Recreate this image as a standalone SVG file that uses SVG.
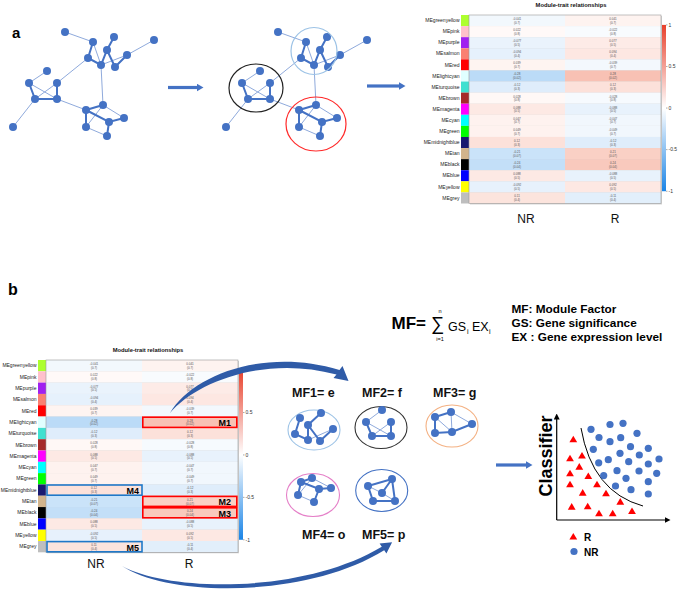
<svg xmlns="http://www.w3.org/2000/svg" width="678" height="589" viewBox="0 0 678 589">
<style>
text{font-family:'Liberation Sans',Arial,sans-serif}
.b{font-weight:bold}
.lt{stroke:#8FAADC;stroke-width:1;fill:none}
.tk{stroke:#4472C4;stroke-width:2;fill:none}
.nd{fill:#4472C4}
.lab{font-size:5px;fill:#222;text-anchor:end}
.cv{font-size:3px;fill:#555;text-anchor:middle}
.tt{font-size:5.8px;font-weight:bold;text-anchor:middle;fill:#111}
.cb{font-size:5px;fill:#333}
.mf{font-size:12.5px;font-weight:bold;fill:#111}
.dot{fill:#4472C4}
.tri{fill:#FF0000}
.arr{stroke:#4472C4;stroke-width:3.2;fill:none}
.big{fill:#2F5BA7}
.ax{stroke:#000;stroke-width:1.2;fill:none}
.mk{font-size:9px;font-weight:bold;fill:#000;text-anchor:end}
.rb{fill:none;stroke:#FF0000;stroke-width:1.6}
.bb{fill:none;stroke:#1F78C8;stroke-width:1.6}
.ax2{font-size:12px;fill:#111;text-anchor:middle}
</style>
<defs>
<marker id="ah" viewBox="0 0 7 8" refX="0.5" refY="4" markerWidth="7" markerHeight="8" markerUnits="userSpaceOnUse" orient="auto"><path d="M0,0 L7,4 L0,8 Z" fill="#4472C4"/></marker>
<marker id="ahk" viewBox="0 0 6 6" refX="0.5" refY="3" markerWidth="6" markerHeight="6" markerUnits="userSpaceOnUse" orient="auto"><path d="M0,0 L6,3 L0,6 Z" fill="#000"/></marker>
<linearGradient id="cbg" x1="0" y1="0" x2="0" y2="1">
<stop offset="0" stop-color="#E8412C"/><stop offset="0.5" stop-color="#FFFFFF"/><stop offset="1" stop-color="#1A84E6"/>
</linearGradient>
<path id="tr" d="M0,-3.6 L3.9,3 L-3.9,3 Z"/>
<g id="net">
<path class="lt" d="M65,32 L93,42 M93,42 L101,65 M154,40 L127,55 M101,65 L127,55 M88,58 L57,83 M29,83 L57,99 M57,83 L35,99 M29,83 L47,71 M35,99 L13,127 M57,99 L86,110 M101,65 L103,105 M103,105 L124,118 M86,127 L107,136 M86,127 L103,105"/>
<path class="tk" d="M93,42 L88,58 L101,65 L107,50 L114,37 M107,50 L115,67 L127,55 M29,83 L35,99 L57,99 L57,83 M86,110 L103,105 M86,110 L109,122 L124,118 M86,110 L86,127 M109,122 L107,136"/>
<g class="nd">
<circle cx="65" cy="32" r="4"/><circle cx="93" cy="42" r="4"/><circle cx="114" cy="37" r="4"/><circle cx="154" cy="40" r="4"/><circle cx="107" cy="50" r="4"/><circle cx="127" cy="55" r="4"/><circle cx="88" cy="58" r="4"/><circle cx="101" cy="65" r="4"/><circle cx="115" cy="67" r="4"/><circle cx="47" cy="71" r="4"/><circle cx="29" cy="83" r="4"/><circle cx="57" cy="83" r="4"/><circle cx="35" cy="99" r="4"/><circle cx="57" cy="99" r="4"/><circle cx="103" cy="105" r="4"/><circle cx="86" cy="110" r="4"/><circle cx="124" cy="118" r="4"/><circle cx="109" cy="122" r="4"/><circle cx="86" cy="127" r="4"/><circle cx="107" cy="136" r="4"/><circle cx="13" cy="127" r="4"/>
</g>
</g>
<g id="hm">
<text class="tt" x="110" y="-8">Module-trait relationships</text>
<rect x="9" y="1" width="192" height="190.4" fill="#d4d4d4"/>
<rect x="0" y="0" width="8" height="11.2" fill="#ADFF2F"/><rect x="8" y="0" width="96" height="11.2" fill="#F2F8FD"/><rect x="104" y="0" width="96" height="11.2" fill="#FEF3F0"/>
<rect x="0" y="11.2" width="8" height="11.2" fill="#FFC0CB"/><rect x="8" y="11.2" width="96" height="11.2" fill="#FFF9F8"/><rect x="104" y="11.2" width="96" height="11.2" fill="#F8FBFE"/>
<rect x="0" y="22.4" width="8" height="11.2" fill="#A020F0"/><rect x="8" y="22.4" width="96" height="11.2" fill="#EAF3FC"/><rect x="104" y="22.4" width="96" height="11.2" fill="#FDEBE7"/>
<rect x="0" y="33.6" width="8" height="11.2" fill="#FA8072"/><rect x="8" y="33.6" width="96" height="11.2" fill="#E6F1FC"/><rect x="104" y="33.6" width="96" height="11.2" fill="#FDE7E2"/>
<rect x="0" y="44.8" width="8" height="11.2" fill="#FF0000"/><rect x="8" y="44.8" width="96" height="11.2" fill="#FEF4F1"/><rect x="104" y="44.8" width="96" height="11.2" fill="#F3F8FD"/>
<rect x="0" y="56" width="8" height="11.2" fill="#E0FFFF"/><rect x="8" y="56" width="96" height="11.2" fill="#BBDBF7"/><rect x="104" y="56" width="96" height="11.2" fill="#F8C1B4"/>
<rect x="0" y="67.2" width="8" height="11.2" fill="#40E0D0"/><rect x="8" y="67.2" width="96" height="11.2" fill="#DFEDFB"/><rect x="104" y="67.2" width="96" height="11.2" fill="#FCE1DA"/>
<rect x="0" y="78.4" width="8" height="11.2" fill="#A52A2A"/><rect x="8" y="78.4" width="96" height="11.2" fill="#FFF8F6"/><rect x="104" y="78.4" width="96" height="11.2" fill="#F6FAFE"/>
<rect x="0" y="89.6" width="8" height="11.2" fill="#FF00FF"/><rect x="8" y="89.6" width="96" height="11.2" fill="#FDE9E4"/><rect x="104" y="89.6" width="96" height="11.2" fill="#E8F2FC"/>
<rect x="0" y="100.8" width="8" height="11.2" fill="#00FFFF"/><rect x="8" y="100.8" width="96" height="11.2" fill="#FEF2EF"/><rect x="104" y="100.8" width="96" height="11.2" fill="#F1F7FD"/>
<rect x="0" y="112" width="8" height="11.2" fill="#00FF00"/><rect x="8" y="112" width="96" height="11.2" fill="#FEF2EF"/><rect x="104" y="112" width="96" height="11.2" fill="#F1F7FD"/>
<rect x="0" y="123.2" width="8" height="11.2" fill="#191970"/><rect x="8" y="123.2" width="96" height="11.2" fill="#FCE1DA"/><rect x="104" y="123.2" width="96" height="11.2" fill="#DFEDFB"/>
<rect x="0" y="134.4" width="8" height="11.2" fill="#D2B48C"/><rect x="8" y="134.4" width="96" height="11.2" fill="#CAE3F9"/><rect x="104" y="134.4" width="96" height="11.2" fill="#FAD0C5"/>
<rect x="0" y="145.6" width="8" height="11.2" fill="#000000"/><rect x="8" y="145.6" width="96" height="11.2" fill="#C3DFF8"/><rect x="104" y="145.6" width="96" height="11.2" fill="#F9C9BD"/>
<rect x="0" y="156.8" width="8" height="11.2" fill="#0000FF"/><rect x="8" y="156.8" width="96" height="11.2" fill="#FDE9E4"/><rect x="104" y="156.8" width="96" height="11.2" fill="#E8F2FC"/>
<rect x="0" y="168" width="8" height="11.2" fill="#FFFF00"/><rect x="8" y="168" width="96" height="11.2" fill="#E7F1FC"/><rect x="104" y="168" width="96" height="11.2" fill="#FDE8E3"/>
<rect x="0" y="179.2" width="8" height="11.2" fill="#BEBEBE"/><rect x="8" y="179.2" width="96" height="11.2" fill="#FCE4DD"/><rect x="104" y="179.2" width="96" height="11.2" fill="#E2EFFB"/>
<rect x="8" y="0" width="192" height="190.4" fill="none" stroke="#9a9a9a" stroke-width="0.6"/>
<text class="lab" x="-1.5" y="7.3">MEgreenyellow</text>
<text class="lab" x="-1.5" y="18.5">MEpink</text>
<text class="lab" x="-1.5" y="29.7">MEpurple</text>
<text class="lab" x="-1.5" y="40.9">MEsalmon</text>
<text class="lab" x="-1.5" y="52.1">MEred</text>
<text class="lab" x="-1.5" y="63.3">MElightcyan</text>
<text class="lab" x="-1.5" y="74.5">MEturquoise</text>
<text class="lab" x="-1.5" y="85.7">MEbrown</text>
<text class="lab" x="-1.5" y="96.9">MEmagenta</text>
<text class="lab" x="-1.5" y="108.1">MEcyan</text>
<text class="lab" x="-1.5" y="119.3">MEgreen</text>
<text class="lab" x="-1.5" y="130.5">MEmidnightblue</text>
<text class="lab" x="-1.5" y="141.7">MEtan</text>
<text class="lab" x="-1.5" y="152.9">MEblack</text>
<text class="lab" x="-1.5" y="164.1">MEblue</text>
<text class="lab" x="-1.5" y="175.3">MEyellow</text>
<text class="lab" x="-1.5" y="186.5">MEgrey</text>
<text class="cv" x="56" y="5">-0.041<tspan x="56" dy="3.8">(0.7)</tspan></text><text class="cv" x="152" y="5">0.041<tspan x="152" dy="3.8">(0.7)</tspan></text>
<text class="cv" x="56" y="16.2">0.022<tspan x="56" dy="3.8">(0.8)</tspan></text><text class="cv" x="152" y="16.2">-0.022<tspan x="152" dy="3.8">(0.8)</tspan></text>
<text class="cv" x="56" y="27.4">-0.077<tspan x="56" dy="3.8">(0.5)</tspan></text><text class="cv" x="152" y="27.4">0.077<tspan x="152" dy="3.8">(0.5)</tspan></text>
<text class="cv" x="56" y="38.6">-0.094<tspan x="56" dy="3.8">(0.4)</tspan></text><text class="cv" x="152" y="38.6">0.094<tspan x="152" dy="3.8">(0.4)</tspan></text>
<text class="cv" x="56" y="49.8">0.039<tspan x="56" dy="3.8">(0.7)</tspan></text><text class="cv" x="152" y="49.8">-0.039<tspan x="152" dy="3.8">(0.7)</tspan></text>
<text class="cv" x="56" y="61">-0.28<tspan x="56" dy="3.8">(0.02)</tspan></text><text class="cv" x="152" y="61">0.28<tspan x="152" dy="3.8">(0.02)</tspan></text>
<text class="cv" x="56" y="72.2">-0.12<tspan x="56" dy="3.8">(0.3)</tspan></text><text class="cv" x="152" y="72.2">0.12<tspan x="152" dy="3.8">(0.3)</tspan></text>
<text class="cv" x="56" y="83.4">0.028<tspan x="56" dy="3.8">(0.8)</tspan></text><text class="cv" x="152" y="83.4">-0.028<tspan x="152" dy="3.8">(0.8)</tspan></text>
<text class="cv" x="56" y="94.6">0.088<tspan x="56" dy="3.8">(0.5)</tspan></text><text class="cv" x="152" y="94.6">-0.088<tspan x="152" dy="3.8">(0.5)</tspan></text>
<text class="cv" x="56" y="105.8">0.047<tspan x="56" dy="3.8">(0.7)</tspan></text><text class="cv" x="152" y="105.8">-0.047<tspan x="152" dy="3.8">(0.7)</tspan></text>
<text class="cv" x="56" y="117">0.049<tspan x="56" dy="3.8">(0.7)</tspan></text><text class="cv" x="152" y="117">-0.049<tspan x="152" dy="3.8">(0.7)</tspan></text>
<text class="cv" x="56" y="128.2">0.12<tspan x="56" dy="3.8">(0.3)</tspan></text><text class="cv" x="152" y="128.2">-0.12<tspan x="152" dy="3.8">(0.3)</tspan></text>
<text class="cv" x="56" y="139.4">-0.21<tspan x="56" dy="3.8">(0.07)</tspan></text><text class="cv" x="152" y="139.4">0.21<tspan x="152" dy="3.8">(0.07)</tspan></text>
<text class="cv" x="56" y="150.6">-0.24<tspan x="56" dy="3.8">(0.04)</tspan></text><text class="cv" x="152" y="150.6">0.24<tspan x="152" dy="3.8">(0.04)</tspan></text>
<text class="cv" x="56" y="161.8">0.088<tspan x="56" dy="3.8">(0.5)</tspan></text><text class="cv" x="152" y="161.8">-0.088<tspan x="152" dy="3.8">(0.5)</tspan></text>
<text class="cv" x="56" y="173">-0.092<tspan x="56" dy="3.8">(0.5)</tspan></text><text class="cv" x="152" y="173">0.092<tspan x="152" dy="3.8">(0.5)</tspan></text>
<text class="cv" x="56" y="184.2">0.11<tspan x="56" dy="3.8">(0.4)</tspan></text><text class="cv" x="152" y="184.2">-0.11<tspan x="152" dy="3.8">(0.4)</tspan></text>
<rect x="201" y="10" width="4" height="168" fill="url(#cbg)"/>
<path d="M205,10 h1.5 M205,52 h1.5 M205,94 h1.5 M205,136 h1.5 M205,178 h1.5" stroke="#555" stroke-width="0.5"/>
<text class="cb" x="207.5" y="11.8">1</text>
<text class="cb" x="207.5" y="53.8">0.5</text>
<text class="cb" x="207.5" y="95.8">0</text>
<text class="cb" x="207.5" y="137.8">-0.5</text>
<text class="cb" x="207.5" y="179.8">-1</text>
</g>
</defs>
<rect width="678" height="589" fill="#FFFFFF"/>

<text class="b" x="12" y="38" font-size="15">a</text>
<text class="b" x="8" y="295" font-size="16">b</text>

<g id="network-raw"><use href="#net"/></g>
<g id="network-modules">
<use href="#net" transform="translate(213,0)"/>
<ellipse cx="314" cy="51" rx="23" ry="23.5" fill="none" stroke="#9DC3E6" stroke-width="1.2"/>
<ellipse cx="256" cy="88" rx="27" ry="24" fill="none" stroke="#222" stroke-width="1.2"/>
<ellipse cx="316" cy="124" rx="30" ry="27" fill="none" stroke="#FF2A2A" stroke-width="1.2"/>
</g>

<g id="heatmap-top">
<use href="#hm" transform="translate(461,15) scale(1,0.99)"/>
<text class="ax2" x="526" y="223">NR</text>
<text class="ax2" x="615" y="223">R</text>
</g>

<g id="heatmap-bottom">
<use href="#hm" transform="translate(38,360) scale(1,1.01)"/>
<text class="ax2" x="96" y="568">NR</text>
<text class="ax2" x="189" y="568">R</text>
<rect class="rb" x="142.8" y="417.2" width="94" height="10.2"/>
<rect class="rb" x="142.8" y="496.4" width="94" height="10"/>
<rect class="rb" x="142.8" y="507.8" width="94" height="10"/>
<rect class="bb" x="47" y="485" width="95" height="10.2"/>
<rect class="bb" x="47" y="541.6" width="95" height="10.2"/>
<text class="mk" x="231" y="426">M1</text>
<text class="mk" x="231" y="505">M2</text>
<text class="mk" x="231" y="516.5">M3</text>
<text class="mk" x="139" y="494">M4</text>
<text class="mk" x="139" y="550.8">M5</text>
</g>

<g id="formula">
<text class="b" x="391.5" y="329" font-size="17">MF=</text>
<text x="431" y="330" font-size="18.5">∑</text>
<text x="440" y="313" font-size="5.5" text-anchor="middle">n</text>
<text x="440" y="340.5" font-size="5.5" text-anchor="middle">i=1</text>
<text x="448" y="331" font-size="12.5">GS</text>
<text x="467" y="334" font-size="7">i</text>
<text x="472" y="331" font-size="12.5">EX</text>
<text x="489" y="334" font-size="7">i</text>
<text class="b" x="511.5" y="312.5" font-size="11.8">MF: Module Factor</text>
<text class="b" x="511.5" y="326.5" font-size="11.8">GS: Gene significance</text>
<text class="b" x="511.5" y="340.5" font-size="11.8">EX : Gene expression level</text>
</g>

<g id="mf1">
<text class="mf" x="292" y="397">MF1= e</text>
<ellipse cx="314" cy="430" rx="26" ry="20" fill="none" stroke="#9DC3E6" stroke-width="1.1"/>
<path class="lt" d="M308,440 L333,429"/>
<path class="tk" d="M300,418 L295,434 L308,440 L308,425 L321,413 M308,425 L320,441 L333,429"/>
<g class="nd"><circle cx="300" cy="418" r="4"/><circle cx="321" cy="413" r="4"/><circle cx="308" cy="425" r="4"/><circle cx="333" cy="429" r="4"/><circle cx="295" cy="434" r="4"/><circle cx="308" cy="440" r="4"/><circle cx="320" cy="441" r="4"/></g>
</g>
<g id="mf2">
<text class="mf" x="362" y="397">MF2= f</text>
<ellipse cx="381" cy="427.5" rx="26" ry="21" fill="none" stroke="#333" stroke-width="1.1"/>
<path class="lt" d="M366,422 L382,410 M366,422 L391,436 M391,422 L372,436"/>
<path class="tk" d="M366,422 L372,436 L391,436 L391,422"/>
<g class="nd"><circle cx="382" cy="410" r="4"/><circle cx="366" cy="422" r="4"/><circle cx="391" cy="422" r="4"/><circle cx="372" cy="436" r="4"/><circle cx="391" cy="436" r="4"/></g>
</g>
<g id="mf3">
<text class="mf" x="433" y="397">MF3= g</text>
<ellipse cx="452" cy="426" rx="26" ry="21" fill="none" stroke="#F4B183" stroke-width="1.1"/>
<path class="lt" d="M451,412 L472,424 M451,412 L452,432 M435,417 L452,432"/>
<path class="tk" d="M451,412 L435,417 L435,433 L452,432 L472,424"/>
<g class="nd"><circle cx="435" cy="417" r="4"/><circle cx="451" cy="412" r="4"/><circle cx="472" cy="424" r="4"/><circle cx="435" cy="433" r="4"/><circle cx="452" cy="432" r="4"/></g>
</g>
<g id="mf4">
<text class="mf" x="302" y="539">MF4= o</text>
<ellipse cx="313" cy="495" rx="26.5" ry="21.5" fill="none" stroke="#E580C8" stroke-width="1.1"/>
<path class="lt" d="M312,478 L331,488 M298,495 L314,502 M298,495 L312,478"/>
<path class="tk" d="M312,478 L301,482 L319,489 L331,488 M301,482 L298,495 M319,489 L314,502"/>
<g class="nd"><circle cx="312" cy="478" r="4"/><circle cx="301" cy="482" r="4"/><circle cx="331" cy="488" r="4"/><circle cx="319" cy="489" r="4"/><circle cx="298" cy="495" r="4"/><circle cx="314" cy="502" r="4"/></g>
</g>
<g id="mf5">
<text class="mf" x="362" y="539">MF5= p</text>
<ellipse cx="381.7" cy="490.5" rx="26" ry="21" fill="none" stroke="#4472C4" stroke-width="1.1"/>
<path class="lt" d="M368,486 L382,493 M382,493 L395,501"/>
<path class="tk" d="M368,486 L392,479 L395,501 L373,501 L368,486 M382,493 L392,479"/>
<g class="nd"><circle cx="392" cy="479" r="4"/><circle cx="368" cy="486" r="4"/><circle cx="382" cy="493" r="4"/><circle cx="373" cy="501" r="4"/><circle cx="395" cy="501" r="4"/></g>
</g>

<g id="classifier">
<text class="b" transform="translate(552,456) rotate(-90)" text-anchor="middle" font-size="18">Classifier</text>
<line class="ax" x1="556.7" y1="520" x2="556.7" y2="419" marker-end="url(#ahk)"/>
<line class="ax" x1="556.7" y1="520" x2="665" y2="520" marker-end="url(#ahk)"/>
<path d="M581,428 Q592,492 643,506" fill="none" stroke="#000" stroke-width="1"/>
<g class="tri">
<use href="#tr" x="573.3" y="439.3"/><use href="#tr" x="570" y="458.3"/><use href="#tr" x="582" y="455.5"/><use href="#tr" x="579.3" y="466.7"/><use href="#tr" x="570" y="473.3"/><use href="#tr" x="588.3" y="476"/><use href="#tr" x="570" y="484.3"/><use href="#tr" x="582.7" y="492.7"/><use href="#tr" x="597" y="484.3"/><use href="#tr" x="606" y="493.3"/><use href="#tr" x="571.7" y="506.7"/><use href="#tr" x="587.7" y="506.3"/><use href="#tr" x="599" y="513.3"/><use href="#tr" x="612.7" y="513.3"/><use href="#tr" x="620.3" y="501.7"/><use href="#tr" x="632" y="511"/>
</g>
<g class="dot">
<circle cx="591" cy="429.3" r="3.6"/><circle cx="610" cy="424.5" r="3.6"/><circle cx="623" cy="423.3" r="3.6"/><circle cx="637" cy="433.3" r="3.6"/><circle cx="599" cy="437.5" r="3.6"/><circle cx="610" cy="441.7" r="3.6"/><circle cx="620.7" cy="437.7" r="3.6"/><circle cx="593.3" cy="449.3" r="3.6"/><circle cx="630.5" cy="446.7" r="3.6"/><circle cx="648.3" cy="448.3" r="3.6"/><circle cx="620" cy="453.3" r="3.6"/><circle cx="639.3" cy="455" r="3.6"/><circle cx="598.7" cy="462.8" r="3.6"/><circle cx="608.3" cy="459.7" r="3.6"/><circle cx="628.7" cy="461.7" r="3.6"/><circle cx="659" cy="459" r="3.6"/><circle cx="648.3" cy="464" r="3.6"/><circle cx="617" cy="470.7" r="3.6"/><circle cx="639" cy="471" r="3.6"/><circle cx="603.7" cy="475.6" r="3.6"/><circle cx="626" cy="478.3" r="3.6"/><circle cx="656.7" cy="473.3" r="3.6"/><circle cx="615.5" cy="486" r="3.6"/><circle cx="631" cy="489.7" r="3.6"/><circle cx="648.3" cy="481.7" r="3.6"/><circle cx="648.3" cy="494" r="3.6"/>
</g>
<use href="#tr" x="573.3" y="536.5" class="tri"/>
<text class="b" x="584" y="540.5" font-size="10">R</text>
<circle cx="574" cy="551.5" r="3.6" class="dot"/>
<text class="b" x="584" y="555.5" font-size="10">NR</text>
</g>

<g id="connectors">
<line class="arr" x1="168" y1="87.5" x2="197" y2="87.5" marker-end="url(#ah)"/>
<line class="arr" x1="367" y1="86" x2="399" y2="86" marker-end="url(#ah)"/>
<line class="arr" x1="496" y1="465" x2="526" y2="465" marker-end="url(#ah)"/>
<path class="big" d="M170,413 C192,375 265,347 339.5,370 L342.5,366 L348.5,381 L333.5,378 L336.5,374.5 C265,355 196,382 170,413 Z"/>
<path class="big" d="M122,566 C168,597 305,599 384.2,550.3 L386.4,553.5 L392.1,542.3 L379.6,543.5 L381.8,546.7 C305,593 172,593 122,566 Z"/>
</g>
</svg>
